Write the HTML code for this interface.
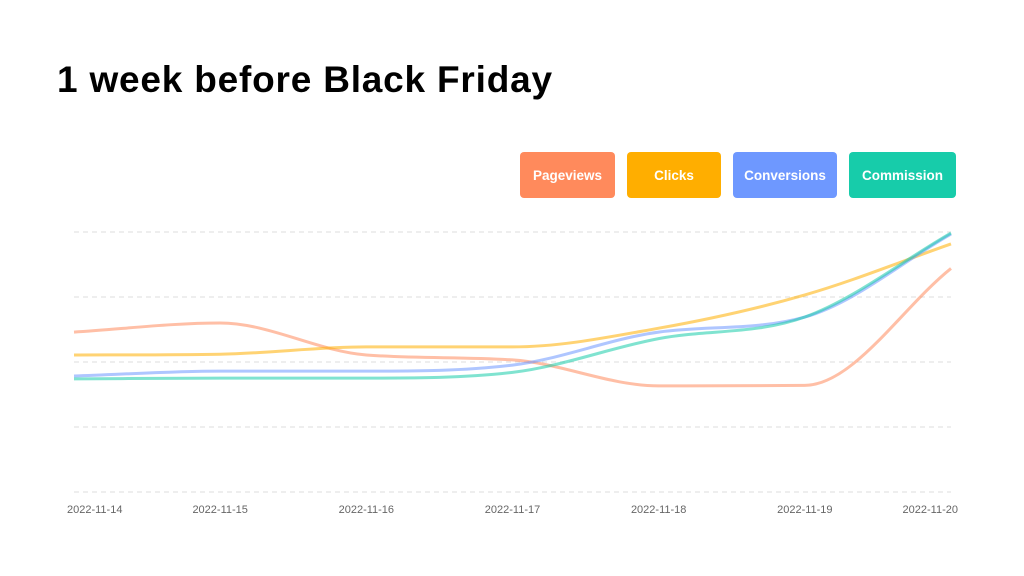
<!DOCTYPE html>
<html><head><meta charset="utf-8"><style>
body{margin:0;width:1024px;height:576px;background:#fff;font-family:"Liberation Sans",sans-serif;overflow:hidden;position:relative}
.title{position:absolute;left:57px;top:59px;font-size:37px;font-weight:bold;color:#000;letter-spacing:0.8px}
.leg{position:absolute;top:152px;height:46px;border-radius:4px;color:#fff;font-size:13.5px;font-weight:bold;display:flex;align-items:center;justify-content:center}
svg{position:absolute;left:0;top:0}
</style></head><body>
<div class="title">1 week before Black Friday</div>
<div class="leg" style="left:520px;width:95px;background:#FF8A5C">Pageviews</div>
<div class="leg" style="left:627px;width:94px;background:#FFAE00">Clicks</div>
<div class="leg" style="left:733px;width:104px;background:#6E98FF">Conversions</div>
<div class="leg" style="left:849px;width:107px;background:#17CCAA">Commission</div>
<svg id="chart" width="1024" height="576"></svg>
<script>
const categories=["2022-11-14","2022-11-15","2022-11-16","2022-11-17","2022-11-18","2022-11-19","2022-11-20"];
const pageviews=[61.5,65,52.7,50.8,40.8,41,86];
const clicks=[52.7,53,55.8,55.8,63,75.8,95.4];
const conversions=[44.6,46.5,46.5,48.8,61.5,67.3,99.2];
const commission=[43.5,43.8,43.8,46,59,67.3,99.6];
const gridTicks=[0,25,50,75,100];
const NS="http://www.w3.org/2000/svg";
const svg=document.getElementById('chart');
const x0=74,x1=951,y0=492,y1=232;
const xs=i=>x0+(x1-x0)*i/(categories.length-1);
const ys=v=>y0-(y0-y1)*v/100;
gridTicks.forEach(t=>{const l=document.createElementNS(NS,'line');


l.setAttribute('x1',x0);l.setAttribute('x2',x1);l.setAttribute('y1',ys(t));l.setAttribute('y2',ys(t));
l.setAttribute('stroke','#dcdcdc');l.setAttribute('stroke-dasharray','5,4');svg.appendChild(l);});
categories.forEach((c,i)=>{const t=document.createElementNS(NS,'text');


let x=xs(i),a='middle';if(i==0){x=x0-7;a='start';}if(i==categories.length-1){x=x1+7;a='end';}
t.setAttribute('x',x);t.setAttribute('y',513);t.setAttribute('text-anchor',a);t.setAttribute('font-size','11');t.setAttribute('fill','#666');t.textContent=c;svg.appendChild(t);});
function monotone(p){const n=p.length,d=[],m=[];
for(let i=0;i<n-1;i++)d.push((p[i+1][1]-p[i][1])/(p[i+1][0]-p[i][0]));
for(let i=0;i<n;i++){if(i==0)m.push(d[0]);else if(i==n-1)m.push(d[n-2]);else m.push(d[i-1]*d[i]<=0?0:(d[i-1]+d[i])/2);}
for(let i=0;i<n-1;i++){if(d[i]==0){m[i]=0;m[i+1]=0;continue;}const a=m[i]/d[i],b=m[i+1]/d[i],s=a*a+b*b;if(s>9){const t=3/Math.sqrt(s);m[i]=t*a*d[i];m[i+1]=t*b*d[i];}}
let s='M'+p[0][0]+','+p[0][1];
for(let i=0;i<n-1;i++){const h=(p[i+1][0]-p[i][0])/3;s+=' C'+(p[i][0]+h)+','+(p[i][1]+m[i]*h)+' '+(p[i+1][0]-h)+','+(p[i+1][1]-m[i+1]*h)+' '+p[i+1][0]+','+p[i+1][1];}
return s;}
[[pageviews,'#FF8A5C','line-pageviews'],[clicks,'#FFAE00','line-clicks'],[conversions,'#6E98FF','line-conversions'],[commission,'#17CCAA','line-commission']].forEach(([vals,col,name])=>{
const p=document.createElementNS(NS,'path');


p.setAttribute('d',monotone(vals.map((v,i)=>[xs(i),ys(v)])));
p.setAttribute('fill','none');p.setAttribute('stroke',col);p.setAttribute('stroke-width','3');p.setAttribute('stroke-opacity','0.55');svg.appendChild(p);});
</script>
</body></html>
